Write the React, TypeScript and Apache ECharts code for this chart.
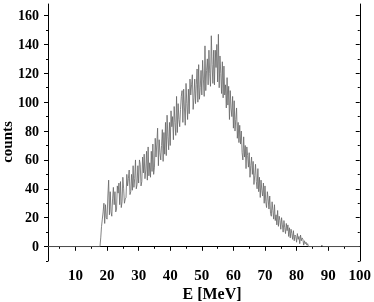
import React, { useEffect, useRef } from "react";
import * as echarts from "echarts";

// Spectrum counts per 0.25 MeV bin, starting at E = 17.75 MeV
const binStart = 17.75;
const binWidth = 0.25;
const counts: number[] = [
  0, 6, 14, 19, 24,
  30, 16, 29, 20,
  19, 35, 46, 22,
  38, 24, 21, 33,
  41, 29, 38, 24,
  26, 42, 37, 44,
  29, 45, 27, 31,
  48, 40, 30, 33,
  34, 50, 42, 47,
  53, 36, 38, 50,
  39, 56, 41, 47,
  60, 40, 43, 56,
  44, 60, 57, 42,
  45, 62, 51, 64,
  47, 53, 66, 46,
  69, 49, 58, 48,
  66, 52, 71, 50,
  55, 75, 62, 71,
  82, 56, 74, 65,
  60, 70, 81, 59,
  79, 64, 86, 63,
  91, 76, 67, 86,
  70, 94, 83, 90,
  74, 97, 86, 77,
  104, 79, 99, 88,
  83, 95, 104, 108,
  86, 109, 96, 84,
  113, 99, 88, 109,
  92, 116, 105, 112,
  119, 95, 103, 116,
  99, 112, 123, 100,
  126, 102, 110, 122,
  105, 129, 116, 104,
  139, 108, 122, 130,
  112, 136, 120, 111,
  146, 126, 113, 136,
  112, 136, 124, 140,
  114, 147, 110, 132,
  120, 106, 128, 103,
  125, 105, 112, 96,
  117, 98, 111, 88,
  108, 96, 90, 104,
  82, 101, 80, 88,
  96, 75, 86, 72,
  84, 71, 80, 65,
  60, 76, 62, 70,
  54, 69, 63, 55,
  65, 48, 56, 62,
  50, 59, 43, 49,
  57, 45, 40, 54,
  38, 48, 34, 46,
  39, 35, 44, 30,
  42, 31, 27, 38,
  33, 26, 35, 23,
  21, 31, 25, 19,
  29, 18, 22, 15,
  25, 14, 21, 18,
  12, 20, 15, 10,
  18, 13, 9, 16,
  11, 15, 7, 13,
  6, 12, 9, 5,
  11, 4, 8, 7,
  3, 9, 5, 7,
  2, 8, 4, 6,
  5, 1, 4, 2,
  3, 1, 2, 0,
  0,
];

// Flat baseline segments and the small blip near 88 MeV
const leadIn: [number, number][] = [[1.3, 0]];
const tail: [number, number][] = [[87.75, 0], [88, 1], [88.25, 0], [100, 0]];

const xMajor = [10, 20, 30, 40, 50, 60, 70, 80, 90, 100];
const xMinor = [5, 15, 25, 35, 45, 55, 65, 75, 85, 95];
const yMajor = [0, 20, 40, 60, 80, 100, 120, 140, 160];
const yMinor = [-10, 10, 30, 50, 70, 90, 110, 130, 150];

const font = "'Liberation Serif', 'Times New Roman', serif";

export default function App() {
  const ref = useRef<HTMLDivElement>(null);
  useEffect(() => {
    if (!ref.current) return;
    const chart = echarts.init(ref.current, null, { renderer: "svg" });
    const data: [number, number][] = [
      ...leadIn,
      ...counts.map((c, i) => [binStart + i * binWidth, c] as [number, number]),
      ...tail,
    ];
    const line = { show: true, lineStyle: { color: "#000", width: 1 } };
    const mkX = (pos: string, vals: number[], len: number, inside: boolean, showLine: boolean, labels: boolean) => ({
      type: "value",
      position: pos,
      min: 1.3,
      max: 100,
      splitLine: { show: false },
      axisLine: showLine ? line : { show: false },
      axisTick: { show: true, customValues: vals, length: len, inside, lineStyle: { color: "#000", width: 1 } },
      axisLabel: labels
        ? {
            show: true, customValues: vals, fontFamily: font, fontWeight: "bold",
            fontSize: 15, color: "#000", margin: 6,
            formatter: (v: number) => (xMajor.includes(v) ? String(v) : ""),
          }
        : { show: false },
    });
    const mkY = (pos: string, vals: number[], len: number, inside: boolean, showLine: boolean, labels: boolean) => ({
      type: "value",
      position: pos,
      min: -10,
      max: 168,
      splitLine: { show: false },
      axisLine: showLine ? line : { show: false },
      axisTick: { show: true, customValues: vals, length: len, inside, lineStyle: { color: "#000", width: 1 } },
      axisLabel: labels
        ? {
            show: true, customValues: vals, fontFamily: font,
            fontWeight: "bold", fontSize: 14, color: "#000", margin: 9,
            formatter: (v: number) => (yMajor.includes(v) ? String(v) : ""),
          }
        : { show: false },
    });
    chart.setOption({
      animation: false,
      grid: { left: 48, right: 10, top: 4, bottom: 41 },
      xAxis: [
        mkX("bottom", xMajor, 4, false, true, true),
        mkX("bottom", xMinor, 2, false, false, false),
        mkX("top", xMajor, 4, true, true, false),
        mkX("top", xMinor, 2, true, false, false),
      ],
      yAxis: [
        mkY("left", yMajor, 4, false, true, true),
        mkY("left", yMinor, 2, false, false, false),
        mkY("right", yMajor, 4, true, true, false),
        mkY("right", yMinor, 2, true, false, false),
      ],
      graphic: [
        {
          type: "text",
          x: 212,
          y: 293,
          style: { text: "E [MeV]", font: `bold 16px ${font}`, fill: "#000", align: "center", verticalAlign: "middle" },
        },
        {
          type: "text",
          x: 7,
          y: 142,
          rotation: Math.PI / 2,
          style: { text: "counts", font: `bold 15px ${font}`, fill: "#000", align: "center", verticalAlign: "middle" },
        },
      ],
      series: [
        {
          type: "line",
          xAxisIndex: 0,
          yAxisIndex: 0,
          data,
          showSymbol: false,
          symbol: "none",
          lineStyle: { color: "#666", width: 0.8 },
        },
      ],
    });
    return () => chart.dispose();
  }, []);
  return <div ref={ref} style={{ position: "fixed", left: 0, top: 0, width: 374, height: 302 }} />;
}
